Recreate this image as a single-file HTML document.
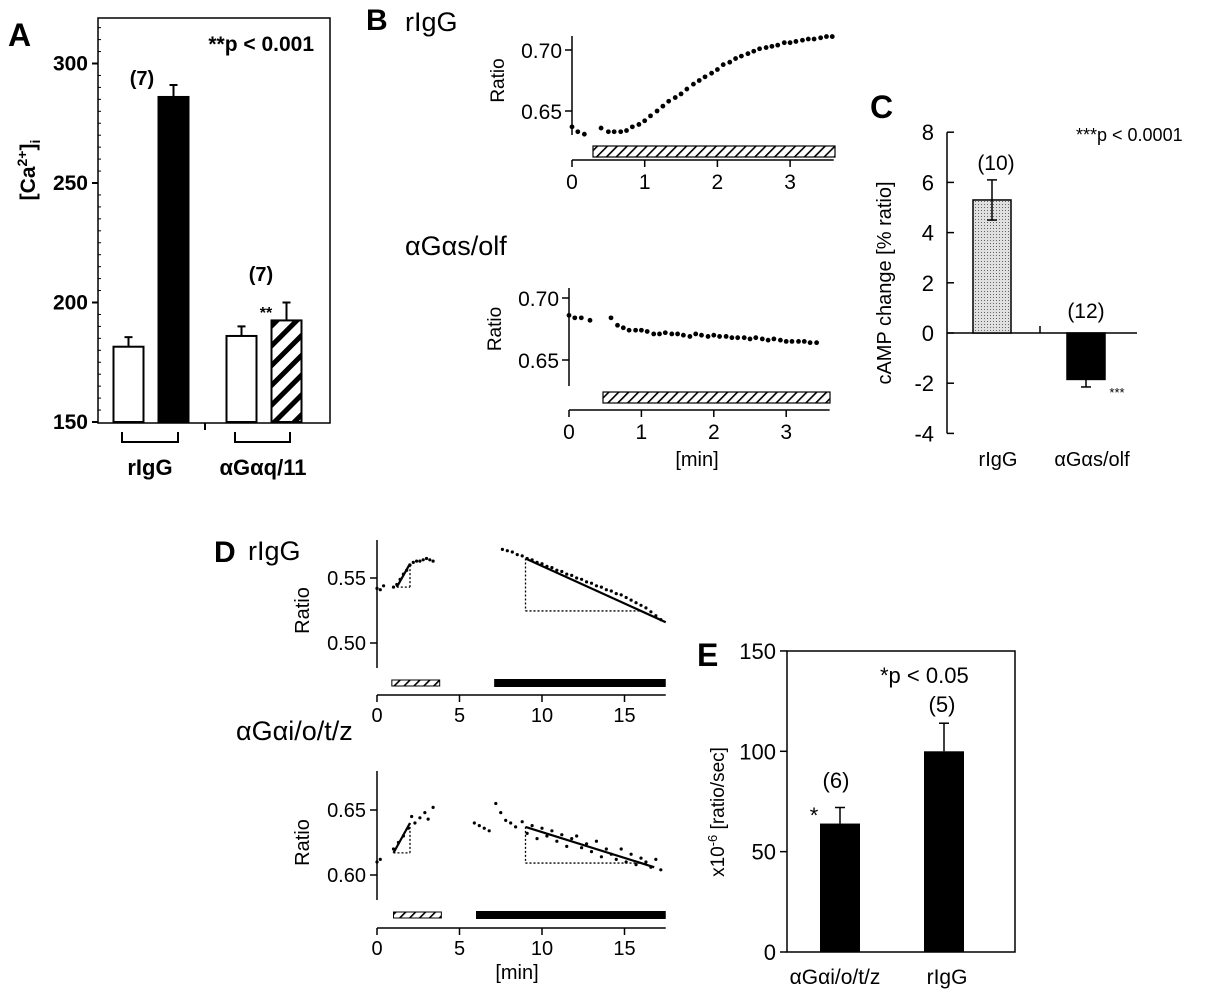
<!DOCTYPE html>
<html><head><meta charset="utf-8"><style>
html,body{margin:0;padding:0;background:#fff}
svg{display:block;font-family:"Liberation Sans",Arial,sans-serif}
</style></head><body>
<svg id="fig" width="1214" height="994" viewBox="0 0 1214 994">
<defs>
<pattern id="hatchA" patternUnits="userSpaceOnUse" width="14" height="14" patternTransform="rotate(45)"><rect width="14" height="14" fill="#fff"/><rect x="0" y="0" width="5" height="14" fill="#000"/></pattern>
<pattern id="hatchB" patternUnits="userSpaceOnUse" width="7" height="7" patternTransform="rotate(45)"><rect width="7" height="7" fill="#fff"/><rect x="0" y="0" width="1.6" height="7" fill="#000"/></pattern>
<pattern id="dots" patternUnits="userSpaceOnUse" width="3" height="3"><rect width="3" height="3" fill="#e0e0e0"/><rect width="1" height="1" fill="#666"/></pattern>
</defs>
<g id="A"></g>
<g id="B"></g>
<g id="C"></g>
<g id="D"></g>
<g id="E"></g>
</svg>
<script>
// ---- Panel A data
const aCats = ["rIgG-ctrl","rIgG-stim","aGaq-ctrl","aGaq-stim"];
const aVals = [181.5, 286, 186, 192.5];
const aErrs = [4, 5, 4, 7.5];
const aTicks = [150, 200, 250, 300];
// ---- Panel B data
const b1T = [0,0.08,0.17,0.4,0.5,0.58,0.67,0.75,0.83,0.92,1.0,1.08,1.17,1.25,1.33,1.42,1.5,1.58,1.67,1.75,1.83,1.92,2.0,2.08,2.17,2.25,2.33,2.42,2.5,2.58,2.67,2.75,2.83,2.92,3.0,3.08,3.17,3.25,3.33,3.42,3.5,3.58];
const b1V = [0.637,0.633,0.631,0.636,0.633,0.633,0.633,0.634,0.637,0.639,0.642,0.646,0.650,0.654,0.658,0.661,0.664,0.668,0.672,0.675,0.678,0.681,0.684,0.688,0.690,0.693,0.695,0.697,0.699,0.701,0.702,0.703,0.704,0.706,0.706,0.707,0.708,0.709,0.709,0.710,0.711,0.711];
const b2T = [0,0.08,0.17,0.29,0.58,0.67,0.75,0.83,0.92,1.0,1.08,1.17,1.25,1.33,1.42,1.5,1.58,1.67,1.75,1.83,1.92,2.0,2.08,2.17,2.25,2.33,2.42,2.5,2.58,2.67,2.75,2.83,2.92,3.0,3.08,3.17,3.25,3.33,3.42];
const b2V = [0.686,0.684,0.684,0.682,0.684,0.678,0.676,0.674,0.674,0.674,0.673,0.671,0.671,0.672,0.671,0.671,0.670,0.669,0.671,0.670,0.669,0.670,0.669,0.669,0.668,0.668,0.668,0.667,0.668,0.667,0.666,0.667,0.666,0.665,0.665,0.665,0.665,0.664,0.664];
const bTicks = [0,1,2,3];
const bYTicks = [0.65, 0.70];
// ---- Panel C data
const cCats = ["rIgG","\u03b1G\u03b1s/olf"];
const cVals = [5.3, -1.85];
const cErrs = [0.8, 0.3];
const cTicks = [-4,-2,0,2,4,6,8];
// ---- Panel D data
const d1T = [0,0.2,0.4,1.0,1.2,1.4,1.6,1.8,2.0,2.2,2.4,2.6,2.8,3.0,3.2,3.4,7.6,7.9,8.2,8.5,8.8,9.1,9.4,9.7,10.0,10.3,10.6,10.9,11.2,11.5,11.8,12.1,12.4,12.7,13.0,13.3,13.6,13.9,14.2,14.5,14.8,15.1,15.4,15.7,16.0,16.3,16.6,16.9,17.2];
const d1V = [0.542,0.541,0.544,0.543,0.545,0.549,0.553,0.556,0.560,0.562,0.563,0.563,0.564,0.565,0.564,0.563,0.572,0.571,0.570,0.568,0.567,0.565,0.564,0.562,0.561,0.559,0.558,0.556,0.555,0.553,0.552,0.550,0.549,0.547,0.546,0.544,0.543,0.541,0.540,0.538,0.537,0.535,0.533,0.531,0.529,0.527,0.524,0.521,0.518];
const d1Fit = [[1.2,0.543],[2.0,0.561],[9.0,0.565],[17.5,0.516]];
const d2T = [0,0.2,1.0,1.3,1.6,1.9,2.1,2.3,2.6,2.9,3.1,3.4,5.9,6.2,6.5,6.8,7.2,7.5,7.8,8.1,8.4,8.8,9.1,9.4,9.7,10.0,10.3,10.6,10.9,11.2,11.5,11.8,12.1,12.4,12.7,13.0,13.3,13.6,13.9,14.2,14.5,14.8,15.1,15.4,15.7,16.0,16.3,16.6,16.9,17.2];
const d2V = [0.610,0.612,0.620,0.625,0.630,0.636,0.645,0.640,0.644,0.648,0.643,0.652,0.640,0.638,0.636,0.634,0.655,0.648,0.642,0.640,0.637,0.641,0.632,0.638,0.628,0.636,0.630,0.634,0.626,0.631,0.622,0.628,0.630,0.621,0.624,0.618,0.626,0.614,0.620,0.616,0.612,0.620,0.610,0.616,0.608,0.613,0.610,0.606,0.612,0.604];
const d2Fit = [[1.0,0.617],[2.0,0.640],[9.0,0.637],[16.8,0.606]];
const dTicks = [0,5,10,15];
// ---- Panel E data
const eCats = ["\u03b1G\u03b1i/o/t/z","rIgG"];
const eVals = [64, 100];
const eErrs = [8, 14];
const eTicks = [0,50,100,150];

const NS="http://www.w3.org/2000/svg";
function mk(parent,tag,attrs,text){const e=document.createElementNS(NS,tag);for(const k in attrs)e.setAttribute(k,attrs[k]);if(text!==undefined)e.textContent=text;parent.appendChild(e);return e;}
function line(p,x1,y1,x2,y2,w,dash){return mk(p,"line",{x1,y1,x2,y2,stroke:"#000","stroke-width":w||1.5,"stroke-dasharray":dash||"none"});}

const yA=v=>422-(v-150)*2.39;
const xA=i=>128.5+i*45+(i>=2?23:0);
const xB1=t=>572+t*72.7, yB1=v=>50+(0.70-v)*1220;
const xB2=t=>569+t*72.4, yB2=v=>298+(0.70-v)*1240;
const yC=v=>333-v*25.1, xC=i=>992+i*94;
const xD=t=>377+t*16.5, yD1=v=>578+(0.55-v)*1300, yD2=v=>810+(0.65-v)*1300;
const yE=v=>952-v*2.007, xE=i=>840+i*104;

// ---------- Panel A
const A=document.getElementById("A");
let t;
t=mk(A,"text",{x:8,y:46,"font-size":32,"font-weight":"bold"},"A");


let fr=mk(A,"path",{d:"M98 18 V423 H330 V18 Z",fill:"none",stroke:"#000","stroke-width":1.5});


line(A,205,423,205,430,2);
aTicks.forEach(v=>{
  line(A,92,yA(v),98,yA(v),2);
  t=mk(A,"text",{x:88,y:yA(v)+7,"font-size":21,"font-weight":"bold","text-anchor":"end"},String(v));
  
  
});
for(let v=155;v<320;v+=5){ if(v%50) line(A,98,yA(v),101,yA(v),1); }
aCats.forEach((c,i)=>{
  const fill=i==1?"#000":(i==3?"url(#hatchA)":"#fff");
  const x=xA(i)-15;
  const r=mk(A,"rect",{x,y:yA(aVals[i]),width:30,height:yA(150)-yA(aVals[i]),fill,stroke:"#000","stroke-width":2});
  
  
  line(A,xA(i),yA(aVals[i]),xA(i),yA(aVals[i]+aErrs[i]),2);
  line(A,xA(i)-4,yA(aVals[i]+aErrs[i]),xA(i)+4,yA(aVals[i]+aErrs[i]),2);
});
mk(A,"path",{d:"M122 432 V442 H178 V432 M235 432 V442 H290 V432",fill:"none",stroke:"#000","stroke-width":2});
t=mk(A,"text",{x:142,y:85,"font-size":20,"font-weight":"bold","text-anchor":"middle"},"(7)");


t=mk(A,"text",{x:261,y:281,"font-size":20,"font-weight":"bold","text-anchor":"middle"},"(7)");


t=mk(A,"text",{x:266,y:318,"font-size":16,"font-weight":"bold","text-anchor":"middle"},"**");


t=mk(A,"text",{x:314,y:51,"font-size":21,"font-weight":"bold","text-anchor":"end"},"**p < 0.001");


t=mk(A,"text",{x:150,y:475,"font-size":22,"font-weight":"bold","text-anchor":"middle"},"rIgG");


t=mk(A,"text",{x:263,y:475,"font-size":22,"font-weight":"bold","text-anchor":"middle"},"\u03b1G\u03b1q/11");


t=mk(A,"text",{x:0,y:0,"font-size":21,"font-weight":"bold","text-anchor":"middle",transform:"translate(35,170) rotate(-90)"});


t.innerHTML='[Ca<tspan dy="-8" font-size="14">2+</tspan><tspan dy="8">]</tspan><tspan dy="5" font-size="14">i</tspan>';

// ---------- Panel B
const B=document.getElementById("B");
t=mk(B,"text",{x:366,y:30,"font-size":30,"font-weight":"bold"},"B");


t=mk(B,"text",{x:405,y:31,"font-size":27},"rIgG");


t=mk(B,"text",{x:405,y:255,"font-size":27},"\u03b1G\u03b1s/olf");


function bPlot(xs,ys,T,V,x0,y0top,y0bot,axY,barX1,barX2,barY,sub){
  line(B,x0,y0top,x0,y0bot,1.5);
  bYTicks.forEach(v=>{line(B,x0-7,ys(v),x0,ys(v),1.5);
    const tt=mk(B,"text",{x:x0-10,y:ys(v)+8,"font-size":21,"text-anchor":"end"},v.toFixed(2));
    
    });
  const yl=mk(B,"text",{x:0,y:0,"font-size":19,"text-anchor":"middle",transform:`translate(${x0-68},${(ys(0.70)+ys(0.65))/2}) rotate(-90)`},"Ratio");
  
  
  line(B,x0,axY,xs(3.6),axY,1.5);
  bTicks.forEach(v=>{line(B,xs(v),axY,xs(v),axY+7,1.5);
    const tt=mk(B,"text",{x:xs(v),y:axY+29,"font-size":21,"text-anchor":"middle"},String(v));
    
    });
  const br=mk(B,"rect",{x:barX1,y:barY,width:barX2-barX1,height:11,fill:"url(#hatchB)",stroke:"#000","stroke-width":1.2});
  
  
  T.forEach((tm,i)=>{const c=mk(B,"circle",{cx:xs(tm),cy:ys(V[i]),r:2.4,fill:"#000"});
    
    });
}
bPlot(xB1,yB1,b1T,b1V,572,36,135,160,593,835,146,"top");
bPlot(xB2,yB2,b2T,b2V,569,288,386,410,603,830,392,"bottom");
t=mk(B,"text",{x:697,y:466,"font-size":20,"text-anchor":"middle"},"[min]");



// ---------- Panel C
const C=document.getElementById("C");
t=mk(C,"text",{x:870,y:118,"font-size":32,"font-weight":"bold"},"C");


line(C,947,yC(8),947,yC(-4),1.5);
line(C,947,yC(0),1137,yC(0),1.5);
line(C,1040,yC(0),1040,yC(0)-7,1.5);
cTicks.forEach(v=>{line(C,947,yC(v),954,yC(v),1.5);
  const tt=mk(C,"text",{x:934,y:yC(v)+8,"font-size":22,"text-anchor":"end"},String(v));
  
  });
t=mk(C,"text",{x:0,y:0,"font-size":20,"text-anchor":"middle",transform:"translate(891,283) rotate(-90)"},"cAMP change  [% ratio]");


cCats.forEach((c,i)=>{
  const v=cVals[i],top=Math.min(yC(v),yC(0)),h=Math.abs(yC(v)-yC(0));
  const r=mk(C,"rect",{x:xC(i)-19,y:top,width:38,height:h,fill:i==0?"url(#dots)":"#000",stroke:"#000","stroke-width":1.5});
  
  
  const e1=yC(v+cErrs[i]),e2=yC(v-cErrs[i]);
  if(i==0){line(C,xC(i),e1,xC(i),e2,1.5);line(C,xC(i)-5,e1,xC(i)+5,e1,1.5);line(C,xC(i)-5,e2,xC(i)+5,e2,1.5);}
  else{line(C,xC(i),yC(v),xC(i),e2,1.5);line(C,xC(i)-5,e2,xC(i)+5,e2,1.5);}
  const tt=mk(C,"text",{x:xC(i)+6,y:466,"font-size":20,"text-anchor":"middle"},c);
  
  
});
t=mk(C,"text",{x:996,y:170,"font-size":21,"text-anchor":"middle"},"(10)");


t=mk(C,"text",{x:1086,y:318,"font-size":21,"text-anchor":"middle"},"(12)");


t=mk(C,"text",{x:1117,y:397,"font-size":13,"text-anchor":"middle"},"***");


t=mk(C,"text",{x:1076,y:141,"font-size":18},"***p < 0.0001");



// ---------- Panel D
const D=document.getElementById("D");
t=mk(D,"text",{x:214,y:562,"font-size":30,"font-weight":"bold"},"D");


t=mk(D,"text",{x:248,y:560,"font-size":27},"rIgG");


t=mk(D,"text",{x:236,y:740,"font-size":27},"\u03b1G\u03b1i/o/t/z");


function dPlot(ys,T,V,fit,yTicks,yTop,yBot,axY,hb,bb,barY,sub){
  line(D,377,yTop,377,yBot,1.5);
  yTicks.forEach(v=>{line(D,370,ys(v),377,ys(v),1.5);
    const tt=mk(D,"text",{x:366,y:ys(v)+7,"font-size":20,"text-anchor":"end"},v.toFixed(2));
    
    });
  const yl=mk(D,"text",{x:0,y:0,"font-size":20,"text-anchor":"middle",transform:`translate(309,${(ys(yTicks[0])+ys(yTicks[yTicks.length-1]))/2}) rotate(-90)`},"Ratio");
  
  
  line(D,377,axY,xD(17.5),axY,1.5);
  dTicks.forEach(v=>{line(D,xD(v),axY,xD(v),axY+7,1.5);
    const tt=mk(D,"text",{x:xD(v),y:axY+27,"font-size":20,"text-anchor":"middle"},String(v));
    
    });
  const h=mk(D,"rect",{x:xD(hb[0]),y:barY,width:xD(hb[1])-xD(hb[0]),height:6,fill:"url(#hatchB)",stroke:"#000","stroke-width":1});
  
  
  const b=mk(D,"rect",{x:xD(bb[0]),y:barY-1,width:xD(bb[1])-xD(bb[0]),height:8,fill:"#000"});
  
  
  T.forEach((tm,i)=>{const c=mk(D,"circle",{cx:xD(tm),cy:ys(V[i]),r:1.6,fill:"#000"});
    
    });
  const [a1,b1]=fit[0],[a2,b2]=fit[1];
  line(D,xD(a1),ys(b1),xD(a2),ys(b2),2.2);
  line(D,xD(a1),ys(b1),xD(a2),ys(b1),1.3,"2,2");
  line(D,xD(a2),ys(b1),xD(a2),ys(b2),1.3,"2,2");
  const [t1,v1]=fit[2],[t2,v2]=fit[3];
  line(D,xD(t1),ys(v1),xD(t2),ys(v2),2.2);
  const vEnd=v1+(v2-v1)*(16-t1)/(t2-t1);
  line(D,xD(t1),ys(v1),xD(t1),ys(vEnd),1.3,"2,2");
  line(D,xD(t1),ys(vEnd),xD(16),ys(vEnd),1.3,"2,2");
}
dPlot(yD1,d1T,d1V,d1Fit,[0.50,0.55],540,668,695,[0.9,3.8],[7.1,17.5],680,"top");
dPlot(yD2,d2T,d2V,d2Fit,[0.60,0.65],771,900,928,[1.0,3.9],[6.0,17.5],912,"bottom");
t=mk(D,"text",{x:517,y:979,"font-size":20,"text-anchor":"middle"},"[min]");



// ---------- Panel E
const E=document.getElementById("E");
t=mk(E,"text",{x:697,y:666,"font-size":32,"font-weight":"bold"},"E");


mk(E,"path",{d:"M787 651 V952 H1015 V651 Z",fill:"none",stroke:"#000","stroke-width":1.5});
eTicks.forEach(v=>{line(E,780,yE(v),787,yE(v),1.5);
  const tt=mk(E,"text",{x:776,y:yE(v)+8,"font-size":22,"text-anchor":"end"},String(v));
  
  });
t=mk(E,"text",{x:0,y:0,"font-size":19,"text-anchor":"middle",transform:"translate(724,812) rotate(-90)"});


t.innerHTML='x10<tspan dy="-7" font-size="13">-6</tspan><tspan dy="7"> [ratio/sec]</tspan>';
eCats.forEach((c,i)=>{
  const r=mk(E,"rect",{x:xE(i)-20,y:yE(eVals[i]),width:40,height:yE(0)-yE(eVals[i]),fill:"#000"});
  
  
  const e=yE(eVals[i]+eErrs[i]);
  line(E,xE(i),yE(eVals[i]),xE(i),e,1.5);line(E,xE(i)-5,e,xE(i)+5,e,1.5);
  const tt=mk(E,"text",{x:xE(i)+(i==0?-5:3),y:984,"font-size":21,"text-anchor":"middle"},c);
  
  
});
t=mk(E,"text",{x:836,y:788,"font-size":22,"text-anchor":"middle"},"(6)");


t=mk(E,"text",{x:942,y:712,"font-size":22,"text-anchor":"middle"},"(5)");


t=mk(E,"text",{x:814,y:823,"font-size":22,"text-anchor":"middle"},"*");


t=mk(E,"text",{x:880,y:683,"font-size":22},"*p < 0.05");


</script>
</body></html>
